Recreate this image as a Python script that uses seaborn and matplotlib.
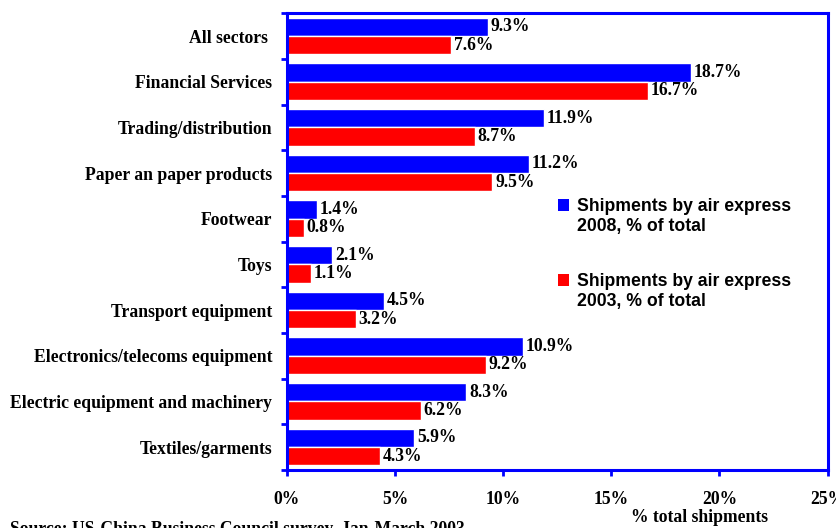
import matplotlib
matplotlib.use("Agg")
import matplotlib.pyplot as plt
from matplotlib.patches import Patch
from matplotlib.ticker import FixedLocator
import seaborn as sns
import pandas as pd

categories = ["All sectors ", "Financial Services", "Trading/distribution",
              "Paper an paper products", "Footwear", "Toys", "Transport equipment",
              "Electronics/telecoms equipment", "Electric equipment and machinery",
              "Textiles/garments"]
values_2008 = [9.3, 18.7, 11.9, 11.2, 1.4, 2.1, 4.5, 10.9, 8.3, 5.9]
values_2003 = [7.6, 16.7, 8.7, 9.5, 0.8, 1.1, 3.2, 9.2, 6.2, 4.3]
series_names = ["Shipments by air express\n2008, % of total",
                "Shipments by air express\n2003, % of total"]
xticks = [0, 5, 10, 15, 20, 25]
xtick_labels = ["0%", "5%", "10%", "15%", "20%", "25%"]

df = pd.DataFrame({
    "sector": categories * 2,
    "value": values_2008 + values_2003,
    "series": [series_names[0]] * len(categories) + [series_names[1]] * len(categories),
})

sns.set_style("white")
plt.rcParams["font.family"] = ["Liberation Serif", "DejaVu Serif"]
plt.rcParams["text.color"] = "black"
plt.rcParams["axes.labelcolor"] = "black"
plt.rcParams["xtick.labelcolor"] = "black"
plt.rcParams["ytick.labelcolor"] = "black"

BLUE = "#0000FF"
RED = "#FF0000"
FS = 12.7

fig = plt.figure(figsize=(8.36, 5.28), dpi=100)
ax = fig.add_axes([0.343, 0.110, 0.647, 0.865])

sns.barplot(data=df, y="sector", x="value", hue="series", orient="h",
            palette=[BLUE, RED], hue_order=series_names, order=categories,
            width=0.8, ax=ax, legend=False, saturation=1)

for cont in ax.containers:
    ax.bar_label(cont, labels=[f"{v:.1f}%" for v in cont.datavalues],
                 padding=2, fontsize=FS, fontweight="bold", color="black")

ax.set_xlim(0, 25)
ax.set_ylim(len(categories) - 0.5, -0.5)
ax.set_xticks(xticks)
ax.set_xticklabels(xtick_labels, fontsize=FS, fontweight="bold", color="black")
ax.set_yticks(range(len(categories)))
ax.set_yticklabels(categories, fontsize=FS, fontweight="bold", color="black")
ax.yaxis.set_minor_locator(FixedLocator([i - 0.5 for i in range(len(categories) + 1)]))
ax.tick_params(axis="y", which="major", length=0, pad=10.5)
ax.tick_params(axis="y", which="minor", length=4, width=2, color=BLUE, direction="out", left=True)
ax.tick_params(axis="x", which="major", length=4, width=2, color=BLUE, direction="out",
               bottom=True, pad=11)
ax.set_ylabel("")
ax.set_xlabel("% total shipments", fontsize=FS, fontweight="bold", color="black")
ax.xaxis.set_label_coords(0.763, -0.085)
ax.xaxis.label.set_verticalalignment("top")

for s in ax.spines.values():
    s.set_visible(True)
    s.set_color(BLUE)
    s.set_linewidth(2.2)

handles = [Patch(facecolor=BLUE, edgecolor="none"), Patch(facecolor=RED, edgecolor="none")]
leg = fig.legend(handles, series_names, loc="upper left", bbox_to_anchor=(0.6675, 0.625),
                 frameon=False, borderpad=0, borderaxespad=0, labelspacing=2.2,
                 handlelength=0.65, handleheight=0.65, handletextpad=0.4,
                 prop={"family": ["Liberation Sans", "DejaVu Sans"], "weight": "bold", "size": FS})
for t in leg.get_texts():
    t.set_color("black")
for h in leg.legend_handles:
    h.set_y(h.get_y() + 8.5)

fig.text(0.012, 0.014, "Source: US-China Business Council survey, Jan-March 2003",
         fontsize=FS, fontweight="bold", va="top", ha="left", color="black")

fig.savefig("out.png", dpi=100)
